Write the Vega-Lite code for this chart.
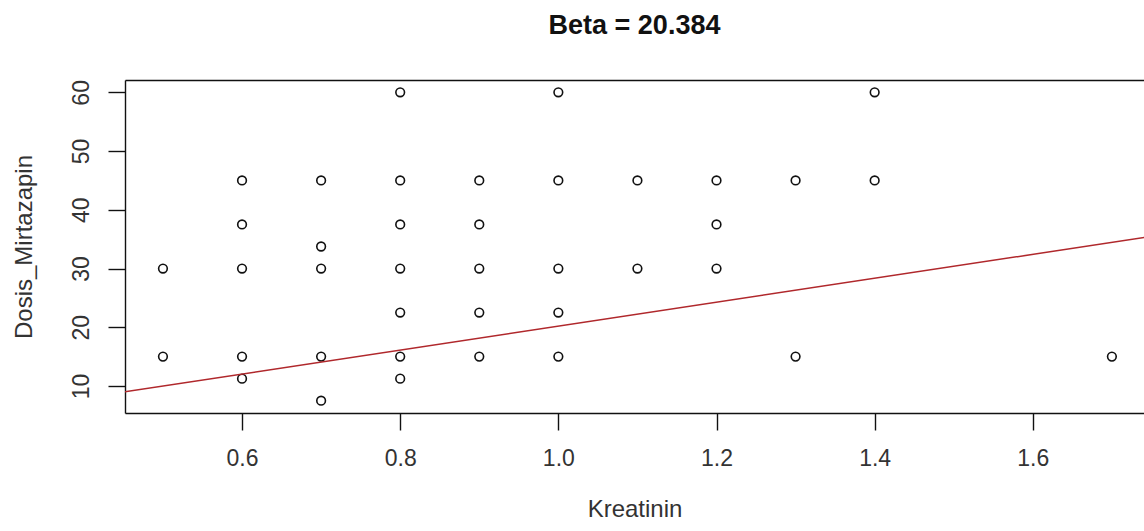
{
  "$schema": "https://vega.github.io/schema/vega-lite/v6.json",
  "autosize": "none",
  "width": 1019,
  "height": 333,
  "padding": {"left": 125, "top": 80, "right": 0, "bottom": 118},
  "background": "white",
  "title": {
    "text": "Beta = 20.384",
    "font": "Liberation Sans",
    "fontSize": 27,
    "fontWeight": "bold",
    "color": "#111111",
    "anchor": "middle",
    "baseline": "alphabetic",
    "offset": 19
  },
  "config": {
    "view": {"stroke": null},
    "axis": {
      "grid": false,
      "domainColor": "#111111",
      "domainWidth": 1.4,
      "tickColor": "#111111",
      "tickWidth": 1.4,
      "tickSize": 17,
      "labelFont": "Liberation Sans",
      "labelFontSize": 23,
      "labelColor": "#333333",
      "titleFont": "Liberation Sans",
      "titleFontSize": 24,
      "titleFontWeight": "normal",
      "titleColor": "#333333"
    }
  },
  "datasets": {
    "dosis": [
      {"Kreatinin": 0.5, "Dosis_Mirtazapin": 30},
      {"Kreatinin": 0.5, "Dosis_Mirtazapin": 15},
      {"Kreatinin": 0.6, "Dosis_Mirtazapin": 45},
      {"Kreatinin": 0.6, "Dosis_Mirtazapin": 37.5},
      {"Kreatinin": 0.6, "Dosis_Mirtazapin": 30},
      {"Kreatinin": 0.6, "Dosis_Mirtazapin": 15},
      {"Kreatinin": 0.6, "Dosis_Mirtazapin": 11.25},
      {"Kreatinin": 0.7, "Dosis_Mirtazapin": 45},
      {"Kreatinin": 0.7, "Dosis_Mirtazapin": 33.75},
      {"Kreatinin": 0.7, "Dosis_Mirtazapin": 30},
      {"Kreatinin": 0.7, "Dosis_Mirtazapin": 15},
      {"Kreatinin": 0.7, "Dosis_Mirtazapin": 7.5},
      {"Kreatinin": 0.8, "Dosis_Mirtazapin": 60},
      {"Kreatinin": 0.8, "Dosis_Mirtazapin": 45},
      {"Kreatinin": 0.8, "Dosis_Mirtazapin": 37.5},
      {"Kreatinin": 0.8, "Dosis_Mirtazapin": 30},
      {"Kreatinin": 0.8, "Dosis_Mirtazapin": 22.5},
      {"Kreatinin": 0.8, "Dosis_Mirtazapin": 15},
      {"Kreatinin": 0.8, "Dosis_Mirtazapin": 11.25},
      {"Kreatinin": 0.9, "Dosis_Mirtazapin": 45},
      {"Kreatinin": 0.9, "Dosis_Mirtazapin": 37.5},
      {"Kreatinin": 0.9, "Dosis_Mirtazapin": 30},
      {"Kreatinin": 0.9, "Dosis_Mirtazapin": 22.5},
      {"Kreatinin": 0.9, "Dosis_Mirtazapin": 15},
      {"Kreatinin": 1.0, "Dosis_Mirtazapin": 60},
      {"Kreatinin": 1.0, "Dosis_Mirtazapin": 45},
      {"Kreatinin": 1.0, "Dosis_Mirtazapin": 30},
      {"Kreatinin": 1.0, "Dosis_Mirtazapin": 22.5},
      {"Kreatinin": 1.0, "Dosis_Mirtazapin": 15},
      {"Kreatinin": 1.1, "Dosis_Mirtazapin": 45},
      {"Kreatinin": 1.1, "Dosis_Mirtazapin": 30},
      {"Kreatinin": 1.2, "Dosis_Mirtazapin": 45},
      {"Kreatinin": 1.2, "Dosis_Mirtazapin": 37.5},
      {"Kreatinin": 1.2, "Dosis_Mirtazapin": 30},
      {"Kreatinin": 1.3, "Dosis_Mirtazapin": 45},
      {"Kreatinin": 1.3, "Dosis_Mirtazapin": 15},
      {"Kreatinin": 1.4, "Dosis_Mirtazapin": 60},
      {"Kreatinin": 1.4, "Dosis_Mirtazapin": 45},
      {"Kreatinin": 1.7, "Dosis_Mirtazapin": 15}
    ],
    "fit": [
      {"Kreatinin": 0.4, "Dosis_Mirtazapin": 7.95},
      {"Kreatinin": 1.8, "Dosis_Mirtazapin": 36.49}
    ]
  },
  "layer": [
    {
      "data": {"name": "dosis"},
      "mark": {"type": "point", "shape": "circle", "filled": false, "stroke": "#111111", "strokeWidth": 1.6, "size": 75, "opacity": 1},
      "encoding": {
        "x": {
          "field": "Kreatinin",
          "type": "quantitative",
          "scale": {"domain": [0.452, 1.7406], "nice": false, "zero": false},
          "axis": {
            "orient": "bottom",
            "values": [0.6, 0.8, 1.0, 1.2, 1.4, 1.6],
            "format": ".1f",
            "labelPadding": 17,
            "titlePadding": 27,
            "title": "Kreatinin"
          }
        },
        "y": {
          "field": "Dosis_Mirtazapin",
          "type": "quantitative",
          "scale": {"domain": [5.4, 62.1], "nice": false, "zero": false},
          "axis": {
            "orient": "left",
            "values": [10, 20, 30, 40, 50, 60],
            "labelAngle": -90,
            "labelAlign": "center",
            "labelBaseline": "bottom",
            "labelPadding": 15,
            "titlePadding": 34,
            "title": "Dosis_Mirtazapin"
          }
        }
      }
    },
    {
      "data": {"name": "fit"},
      "mark": {"type": "line", "color": "#b0282c", "strokeWidth": 1.5, "clip": true},
      "encoding": {
        "x": {
          "field": "Kreatinin",
          "type": "quantitative",
          "axis": {"orient": "top", "labels": false, "ticks": false, "title": null}
        },
        "y": {"field": "Dosis_Mirtazapin", "type": "quantitative"}
      }
    }
  ],
  "resolve": {"axis": {"x": "independent"}}
}
